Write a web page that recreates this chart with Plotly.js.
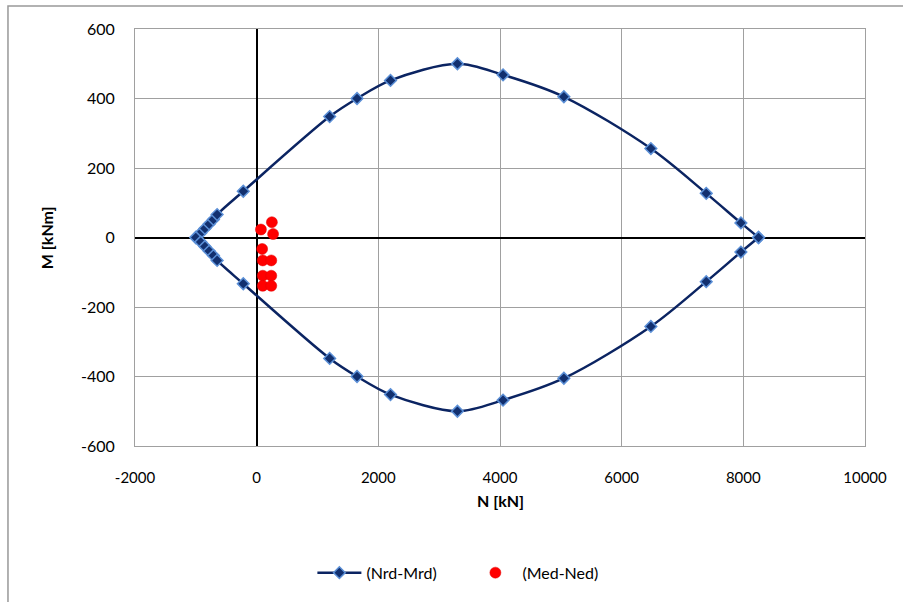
<!DOCTYPE html>
<html>
<head>
<meta charset="utf-8">
<script src="https://cdn.plot.ly/plotly-3.0.1.min.js"></script>
<style>html,body{margin:0;padding:0;background:#fff;}#chart{width:903px;height:602px;}</style>
</head>
<body>
<div id="chart"></div>
<script>
// Interaction diagram (Nrd-Mrd), upper branch
const nrdUpper = [-1000, -920, -850, -780, -710, -650, -220, 1200, 1650, 2200, 3300, 4050, 5050, 6480, 7390, 7960, 8250];
const mrdUpper = [0, 13, 26, 39, 52, 66, 133, 348, 400, 452, 500, 468, 405, 256, 127, 42, 0];
// lower branch
const nrdLower = [-1000, -920, -850, -780, -710, -650, -220, 1200, 1650, 2200, 3300, 4050, 5050, 6480, 7390, 7960, 8250];
const mrdLower = [0, -13, -26, -39, -52, -66, -133, -348, -400, -452, -500, -468, -405, -256, -127, -42, 0];
// Design actions (Med-Ned)
const ned = [250, 70, 270, 90, 100, 240, 100, 240, 100, 240];
const med = [44, 23, 10, -33, -66, -66, -110, -110, -139, -139];

const xTicks = [-2000, 0, 2000, 4000, 6000, 8000, 10000];
const yTicks = [-600, -400, -200, 0, 200, 400, 600];

const lineStyle = {color: '#0B2462', width: 2.5, shape: 'spline', smoothing: 0.9};
const markerStyle = {symbol: 'diamond', size: 9, color: '#12306F', line: {color: '#5B8FD6', width: 1.5}};

const traces = [
  {x: nrdUpper, y: mrdUpper, type: 'scatter', mode: 'lines+markers', name: '(Nrd-Mrd)',
   line: lineStyle, marker: markerStyle, legendgroup: 'nrd', showlegend: true},
  {x: nrdLower, y: mrdLower, type: 'scatter', mode: 'lines+markers', name: '(Nrd-Mrd)',
   line: lineStyle, marker: markerStyle, legendgroup: 'nrd', showlegend: false},
  {x: ned, y: med, type: 'scatter', mode: 'markers', name: '(Med-Ned)',
   marker: {symbol: 'circle', size: 11, color: '#FF0000', line: {color: '#E00000', width: 0.5}}}
];

const font = {family: 'Lato, "Open Sans", sans-serif', size: 16, color: '#000'};

const layout = {
  width: 903, height: 602,
  margin: {l: 135, r: 38, t: 29, b: 152},
  paper_bgcolor: '#fff', plot_bgcolor: '#fff',
  font: font,
  showlegend: true,
  legend: {orientation: 'h', x: 0.243, xanchor: 'left', y: -0.304, yanchor: 'middle',
           font: {family: font.family, size: 16, color: '#000'}, itemwidth: 44, tracegroupgap: 0,
           entrywidth: 97, entrywidthmode: 'pixels'},
  xaxis: {range: [-2000, 10000], tickvals: xTicks, ticktext: xTicks.map(String),
          showgrid: true, gridcolor: '#A0A0A0', gridwidth: 1,
          zeroline: true, zerolinecolor: '#000', zerolinewidth: 2,
          showline: true, linecolor: '#A0A0A0', linewidth: 1, mirror: true,
          ticks: '', ticklabelstandoff: 18, tickfont: {family: font.family, size: 15, color: '#000'}, fixedrange: true},
  yaxis: {range: [-600, 600], tickvals: yTicks, ticktext: yTicks.map(String),
          showgrid: true, gridcolor: '#A0A0A0', gridwidth: 1,
          zeroline: true, zerolinecolor: '#000', zerolinewidth: 2,
          showline: true, linecolor: '#A0A0A0', linewidth: 1, mirror: true,
          ticks: '', ticklabelstandoff: 16, tickfont: {family: font.family, size: 16, color: '#000'}, fixedrange: true},
  annotations: [
    {text: '<b>N [kN]</b>', xref: 'paper', yref: 'paper', x: 0.5, y: -0.13, xanchor: 'center', yanchor: 'middle',
     showarrow: false, font: {family: font.family, size: 16, color: '#000'}},
    {text: '<b>M [kNm]</b>', xref: 'paper', yref: 'paper', x: -0.121, y: 0.5, xanchor: 'center', yanchor: 'middle',
     textangle: -90, showarrow: false, font: {family: font.family, size: 16, color: '#000'}}
  ],
  shapes: [
    {type: 'rect', xref: 'paper', yref: 'paper', x0: -0.174, x1: 1.2, y0: -0.45, y1: 1.055,
     line: {color: '#999999', width: 1.5}, fillcolor: 'rgba(0,0,0,0)', layer: 'below'}
  ]
};

Plotly.newPlot('chart', traces, layout, {displayModeBar: false, staticPlot: true});
</script>
</body>
</html>
